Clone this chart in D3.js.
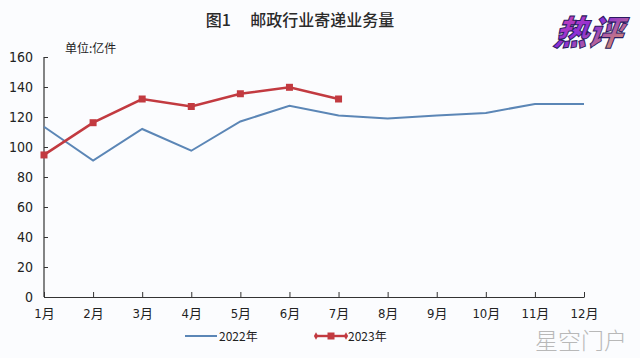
<!DOCTYPE html>
<html><head><meta charset="utf-8">
<script src="https://cdn.jsdelivr.net/npm/d3@7"></script>
<style>html,body{margin:0;padding:0;background:#fbfcfe;}svg{display:block;}</style>
</head><body>
<script>
const months = ["1月","2月","3月","4月","5月","6月","7月","8月","9月","10月","11月","12月"];
const values2022 = [113.5, 91, 112, 97.5, 117, 127.5, 121, 119, 121, 122.7, 128.7, 128.7];
const values2023 = [94.7, 116.2, 132, 127, 135.5, 139.8, 132];
const yTicks = [0, 20, 40, 60, 80, 100, 120, 140, 160];
const title = "图1\u3000 邮政行业寄递业务量";
const unitLabel = "单位:亿件";
const seriesNames = ["2022年", "2023年"];

const W = 640, H = 358;
const svg = d3.select("body").append("svg").attr("width", W).attr("height", H);
svg.append("rect").attr("width", W).attr("height", H).attr("fill", "#fbfcfe");
const font = "'Noto Sans CJK SC', 'Liberation Serif', serif";
const numFont = "'Liberation Sans Narrow', 'DejaVu Sans Condensed', 'Liberation Sans', sans-serif";

const x = d3.scalePoint().domain(months).range([44, 584]);
const y = d3.scaleLinear().domain([0, 160]).range([297, 57]);

// title
svg.append("text").attr("x", 300).attr("y", 26).attr("text-anchor", "middle")
  .attr("font-family", "'Noto Sans CJK SC'").attr("font-size", 16).attr("font-weight", 500)
  .attr("fill", "#2a2a2a").text(title);
svg.append("text").attr("x", 65).attr("y", 53)
  .attr("font-family", "'Noto Sans CJK SC'").attr("font-size", 12).attr("fill", "#222").text(unitLabel);

// axes
const yAxis = d3.axisLeft(y).tickValues(yTicks).tickSize(-4).tickSizeOuter(0).tickPadding(11);
const gy = svg.append("g").attr("transform", "translate(44,0)").call(yAxis);
gy.select(".domain").attr("d", "M0,57V297").attr("stroke", "#333").attr("stroke-width", 1.2);
gy.selectAll("text").attr("font-family", numFont).attr("font-size", 14).attr("fill", "#222");
gy.selectAll(".tick line").attr("stroke", "#333");

const xAxis = d3.axisBottom(x).tickSize(-5).tickSizeOuter(0).tickPadding(12);
const gx = svg.append("g").attr("transform", "translate(0,297)").call(xAxis);
gx.select(".domain").attr("stroke", "#333").attr("stroke-width", 1.2);
gx.selectAll(".tick line").attr("stroke", "#333");
gx.selectAll("text").attr("font-family", numFont + ", 'Noto Sans CJK SC'").attr("font-size", 13).attr("fill", "#222");

// lines
const line = d3.line().x((d, i) => x(months[i])).y(d => y(d));
svg.append("path").datum(values2022).attr("d", line).attr("fill", "none")
  .attr("stroke", "#5b86b6").attr("stroke-width", 2);
svg.append("path").datum(values2023).attr("d", line).attr("fill", "none")
  .attr("stroke", "#c23a40").attr("stroke-width", 2.6);
svg.selectAll("rect.m").data(values2023).enter().append("rect").attr("class", "m")
  .attr("x", (d, i) => x(months[i]) - 3.5).attr("y", d => y(d) - 3.5)
  .attr("width", 7).attr("height", 7).attr("fill", "#c23a40");

// legend
const lg = svg.append("g");
lg.append("line").attr("x1", 185).attr("x2", 217).attr("y1", 336).attr("y2", 336)
  .attr("stroke", "#5b86b6").attr("stroke-width", 2);
lg.append("text").attr("x", 219).attr("y", 340.5).attr("font-family", font).attr("font-size", 12)
  .attr("fill", "#222").text(seriesNames[0]);
lg.append("line").attr("x1", 315).attr("x2", 347).attr("y1", 336).attr("y2", 336)
  .attr("stroke", "#c23a40").attr("stroke-width", 2.4);
[316, 346].forEach(cx => lg.append("path").attr("d", d3.symbol(d3.symbolDiamond, 16)())
  .attr("transform", `translate(${cx},336)`).attr("fill", "#c23a40"));
lg.append("rect").attr("x", 327.5).attr("y", 332.5).attr("width", 7).attr("height", 7).attr("fill", "#c23a40");
lg.append("text").attr("x", 348).attr("y", 340.5).attr("font-family", font).attr("font-size", 12)
  .attr("fill", "#222").text(seriesNames[1]);

// watermarks
svg.append("text").attr("x", 535).attr("y", 349).attr("font-family", "'Noto Sans CJK SC'")
  .attr("font-size", 23).attr("font-weight", 300).attr("fill", "#b8b8b8").text("星空门户");
const defs = svg.append("defs");
const gr = defs.append("linearGradient").attr("id", "lg").attr("x1", 0).attr("x2", 1).attr("y1", 0).attr("y2", 1);
gr.append("stop").attr("offset", "0%").attr("stop-color", "#f04aa0");
gr.append("stop").attr("offset", "45%").attr("stop-color", "#8a2ed8");
gr.append("stop").attr("offset", "100%").attr("stop-color", "#f5b540");
svg.append("text").attr("x", 553).attr("y", 45).attr("font-family", "'Noto Sans CJK SC'")
  .attr("font-size", 34).attr("font-weight", 900).attr("font-style", "italic")
  .attr("transform", "skewX(-8) translate(6,0)")
  .attr("fill", "url(#lg)").attr("stroke", "#2a1a60").attr("stroke-width", 1).text("热评");
</script>
</body></html>
